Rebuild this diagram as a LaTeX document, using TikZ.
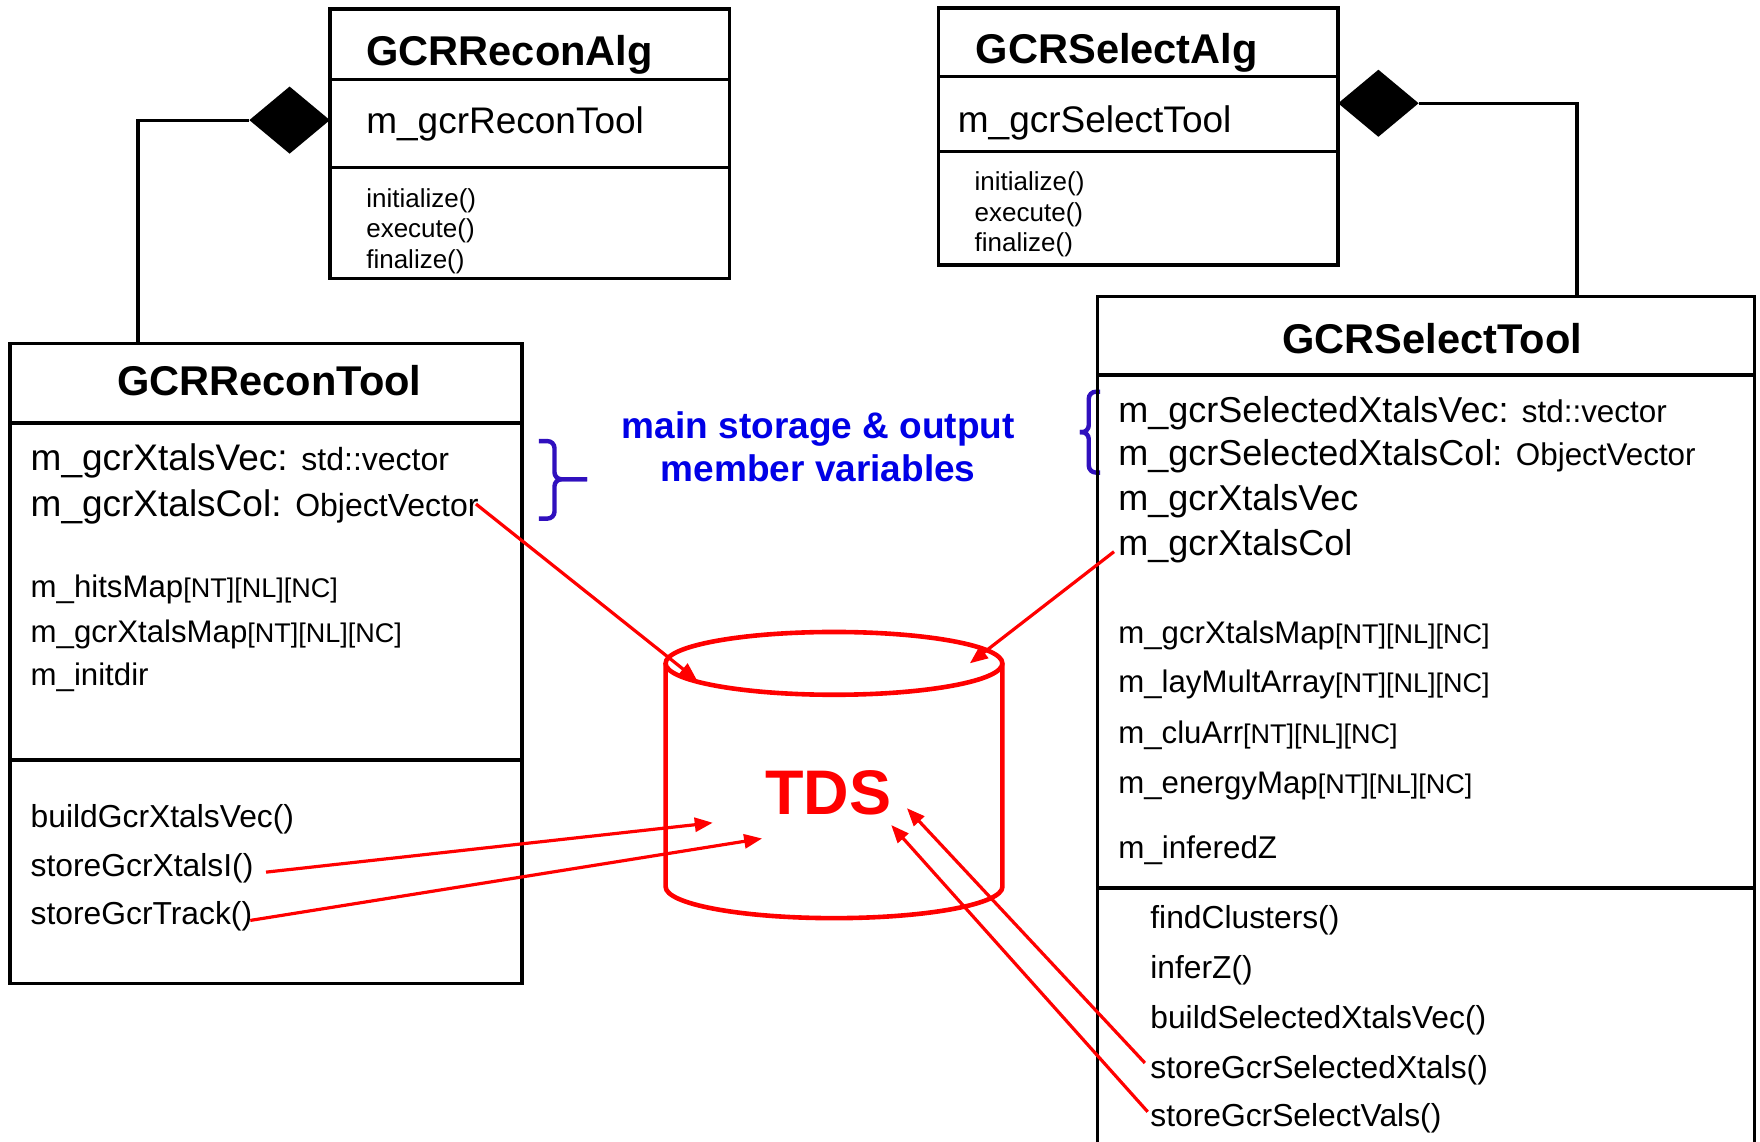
\documentclass[tikz,border=0pt]{standalone}
\usepackage{fontspec}
\setmainfont{Liberation Sans}
\usetikzlibrary{arrows.meta,shapes.geometric,fit}
\definecolor{txtblue}{RGB}{0,0,230}
\definecolor{brc}{RGB}{48,16,190}
\newcommand{\fsz}[1]{\fontsize{#1}{#1}\selectfont}
\begin{document}
\begin{tikzpicture}[x=0.5612pt,y=-0.5612pt,
  box/.style={draw, line width=1.7pt, inner sep=0pt},
  divider/.style={line width=1.7pt},
  txt/.style={anchor=base west, inner sep=0pt},
  title/.style={anchor=base, inner sep=0pt, font=\bfseries\fsz{20.8}},
  link/.style={line width=1.6pt},
  comp/.style={diamond, fill=black, inner sep=0pt, minimum width=40.4pt, minimum height=33.7pt},
  redarrow/.style={draw=red, line width=1.6pt, -{Triangle[length=9pt,width=7pt]}},
  cyl/.style={draw=red, line width=2.3pt},
  bracestyle/.style={draw=brc, line width=2.2pt, rounded corners=3.5pt},
  note/.style={anchor=base, inner sep=0pt, font=\bfseries\fsz{18.5}, text=txtblue},
]
\clip (0,0) rectangle (1568,1017);
\fill[white] (0,0) rectangle (1568,1017);

% braces
\draw[bracestyle] (480,393) -- (494,393) -- (494,427) -- (523,427);
\draw[bracestyle] (523,427) -- (494,427) -- (494,462) -- (480,462);
\draw[bracestyle] (980,349) -- (970,349) -- (970,385) -- (962,385);
\draw[bracestyle] (962,385) -- (970,385) -- (970,421) -- (980,421);

% ---------- GCRReconAlg ----------
\node[box, fit={(294,8) (650,248)}] (ralg) {};
\draw[divider] (294,71) -- (650,71);
\draw[divider] (294,149) -- (650,149);
\node[txt, font=\bfseries\fsz{20.8}] (ralgT) at (326,58) {GCRReconAlg};
\node[txt, font=\fsz{18.5}] (ralgA) at (326,119) {m\_gcrReconTool};
\node[txt, font=\fsz{13}] (ralgM1) at (326,185) {initialize()};
\node[txt, font=\fsz{13}] (ralgM2) at (326,212) {execute()};
\node[txt, font=\fsz{13}] (ralgM3) at (326,239) {finalize()};

% ---------- GCRReconTool ----------
\node[box, fit={(9,306) (465,876)}] (rtool) {};
\draw[divider] (9,377) -- (465,377);
\draw[divider] (9,677) -- (465,677);
\node[title] (rtoolT) at (240,352) {GCRReconTool};
\node[txt] (rvec) at (27,419) {\fsz{18.5}m\_gcrXtalsVec: \fsz{16}std::vector};
\node[txt] (rcol) at (27,460) {\fsz{18.5}m\_gcrXtalsCol: \fsz{16}ObjectVector};
\node[txt] (rhits) at (27,532.5) {\fsz{15.6}m\_hitsMap\fsz{13.5}[NT][NL][NC]};
\node[txt] (rmap) at (27,572.5) {\fsz{15.6}m\_gcrXtalsMap\fsz{13.5}[NT][NL][NC]};
\node[txt, font=\fsz{15.6}] (rinit) at (27,610.5) {m\_initdir};
\node[txt, font=\fsz{15.9}] (rbuild) at (27,737) {buildGcrXtalsVec()};
\node[txt, font=\fsz{15.9}] (rstore1) at (27,780.5) {storeGcrXtalsI()};
\node[txt, font=\fsz{15.9}] (rstore2) at (27,824) {storeGcrTrack()};

% composition GCRReconAlg <>-- GCRReconTool
\node[comp] (dL) at (258,107) {};
\coordinate (cL) at (123,0 |- rtool.north);
\draw[link] (dL.west) -| (cL);

% ---------- GCRSelectAlg ----------
\node[box, fit={(836,7) (1192,236)}] (salg) {};
\draw[divider] (836,68) -- (1192,68);
\draw[divider] (836,135) -- (1192,135);
\node[txt, font=\bfseries\fsz{20.8}] (salgT) at (869,57) {GCRSelectAlg};
\node[txt, font=\fsz{18.5}] (salgA) at (853,118) {m\_gcrSelectTool};
\node[txt, font=\fsz{13}] (salgM1) at (868,170) {initialize()};
\node[txt, font=\fsz{13}] (salgM2) at (868,197) {execute()};
\node[txt, font=\fsz{13}] (salgM3) at (868,224) {finalize()};

% ---------- GCRSelectTool ----------
\node[box, fit={(978,264) (1563,1060)}] (stool) {};
\draw[divider] (978,334) -- (1563,334);
\draw[divider] (978,791) -- (1563,791);
\node[title] (stoolT) at (1276,315) {GCRSelectTool};
\node[txt] (ssvec) at (996,376) {\fsz{18}m\_gcrSelectedXtalsVec: \fsz{15.7}std::vector};
\node[txt] (sscol) at (996,415) {\fsz{18}m\_gcrSelectedXtalsCol: \fsz{15.7}ObjectVector};
\node[txt, font=\fsz{18}] (svec) at (996,455) {m\_gcrXtalsVec};
\node[txt, font=\fsz{18}] (scol) at (996,494.5) {m\_gcrXtalsCol};
\node[txt] (smap) at (996,573) {\fsz{15.6}m\_gcrXtalsMap\fsz{13.5}[NT][NL][NC]};
\node[txt] (slay) at (996,617) {\fsz{15.6}m\_layMultArray\fsz{13.5}[NT][NL][NC]};
\node[txt] (sclu) at (996,662) {\fsz{15.6}m\_cluArr\fsz{13.5}[NT][NL][NC]};
\node[txt] (sen) at (996,707) {\fsz{15.6}m\_energyMap\fsz{13.5}[NT][NL][NC]};
\node[txt, font=\fsz{15.7}] (sinf) at (996,765) {m\_inferedZ};
\node[txt, font=\fsz{15.9}] (sm1) at (1024.5,827) {findClusters()};
\node[txt, font=\fsz{15.9}] (sm2) at (1024.5,871.5) {inferZ()};
\node[txt, font=\fsz{15.9}] (sm3) at (1024.5,916) {buildSelectedXtalsVec()};
\node[txt, font=\fsz{15.9}] (sm4) at (1024.5,960.5) {storeGcrSelectedXtals()};
\node[txt, font=\fsz{15.9}] (sm5) at (1024.5,1004) {storeGcrSelectVals()};

% composition GCRSelectAlg <>-- GCRSelectTool
\node[comp] (dR) at (1228,92) {};
\coordinate (cR) at (1405,0 |- stool.north);
\draw[link] (dR.east) -| (cR);

% ---------- notes ----------
\node[note] (note1) at (729,390.5) {main storage \& output};
\node[note] (note2) at (729,429) {member variables};

% ---------- TDS cylinder ----------
\draw[cyl] (743,591) ellipse [x radius=84.2pt, y radius=15.7pt];
\draw[cyl] (593,591) -- (593,790) arc[start angle=180, end angle=360, x radius=84.2pt, y radius=15.7pt] -- (893,591);
\node[anchor=base, inner sep=0pt, font=\bfseries\fsz{31.5}, text=red] (tds) at (738,726) {TDS};

% ---------- red arrows ----------
\coordinate (a1s) at (424,449);
\coordinate (a1e) at (621,606);
\coordinate (a2s) at (992.5,491.5);
\coordinate (a2e) at (864,591);
\coordinate (a3s) at (237,777);
\coordinate (a3e) at (635,733);
\coordinate (a4s) at (223,820);
\coordinate (a4e) at (679,747);
\coordinate (a5s) at (1020,947);
\coordinate (a5e) at (808,720);
\coordinate (a6s) at (1022.5,990.5);
\coordinate (a6e) at (794,735);
\draw[redarrow] (a1s) -- (a1e);
\draw[redarrow] (a2s) -- (a2e);
\draw[redarrow] (a3s) -- (a3e);
\draw[redarrow] (a4s) -- (a4e);
\draw[redarrow] (a5s) -- (a5e);
\draw[redarrow] (a6s) -- (a6e);
\end{tikzpicture}
\end{document}
